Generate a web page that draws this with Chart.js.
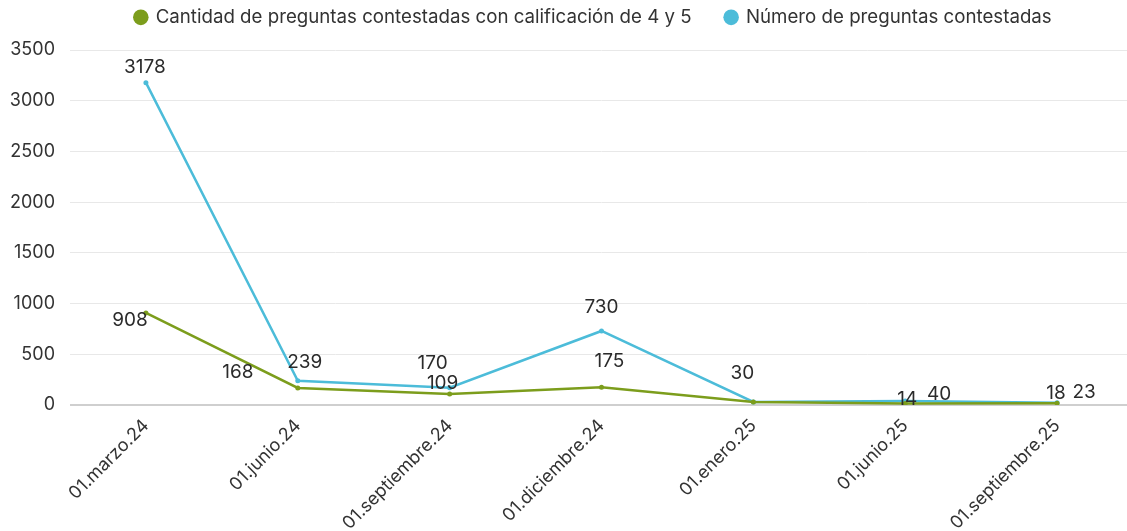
<!DOCTYPE html>
<html>
<head>
<meta charset="utf-8">
<script src="https://cdn.jsdelivr.net/npm/chart.js@4/dist/chart.umd.min.js"></script>
<style>
html,body{margin:0;padding:0;background:#fff;overflow:hidden;}
#wrap{width:1140px;height:531px;position:relative;}
</style>
</head>
<body>
<div id="wrap"><canvas id="c"></canvas></div>
<script>
const categories = ["01.marzo.24","01.junio.24","01.septiembre.24","01.diciembre.24","01.enero.25","01.junio.25","01.septiembre.25"];
const seriesNames = ["Cantidad de preguntas contestadas con calificación de 4 y 5","Número de preguntas contestadas"];
const highScoreValues = [908, 168, 109, 175, 30, 14, 18];
const answeredValues = [3178, 239, 170, 730, 30, 40, 23];
const yTicks = [0, 500, 1000, 1500, 2000, 2500, 3000, 3500];

// label placement (style only): [dx, dy] relative to point, null = hidden
const greenLabelOffsets = [[-16,7],[-60,-16],[-7,-11],[8,-26],null,[2,-4],[-1,-10]];
const blueLabelOffsets = [[-1,-15],[7,-18],[-17,-24],[0,-24],[-11,-29],[34,-7],[27,-10]];

const GREEN = '#7c9d1c';
const BLUE = '#4cbcd9';
const FONT = 'Inter, "Noto Sans", sans-serif';

const labelPlugin = {
  id: 'pointLabels',
  afterDatasetsDraw(chart) {
    const ctx = chart.ctx;
    const offs = [greenLabelOffsets, blueLabelOffsets];
    ctx.save();
    ctx.font = '19px ' + FONT;
    ctx.fillStyle = '#2b2b2b';
    ctx.textAlign = 'center';
    ctx.textBaseline = 'middle';
    chart.data.datasets.forEach((ds, i) => {
      const meta = chart.getDatasetMeta(i);
      meta.data.forEach((pt, j) => {
        const o = offs[i][j];
        if (!o) return;
        ctx.fillText(String(ds.data[j]), pt.x + o[0], pt.y + o[1]);
      });
    });
    ctx.restore();
  }
};

const legendTweak = {
  id: 'legendTweak',
  beforeInit(chart) {
    const lg = chart.legend;
    if (lg && !lg._patched) {
      const fit = lg.fit;
      lg.fit = function(){ fit.call(this); this.height = 50; };
      lg._patched = true;
    }
  },
  beforeDraw(chart) {
    const lg = chart.legend;
    if (lg && !lg._shifted) {
      lg.left += 27; lg.right += 27; lg.top -= 26; lg._shifted = true;
    }
  },
  afterUpdate(chart){ if (chart.legend) chart.legend._shifted = false; }
};

new Chart(document.getElementById('c'), {
  type: 'line',
  data: {
    labels: categories,
    datasets: [
      {label: seriesNames[0], data: highScoreValues, borderColor: GREEN, backgroundColor: GREEN,
       borderWidth: 2.5, pointRadius: 2.5, pointBackgroundColor: GREEN, pointBorderWidth: 0, tension: 0},
      {label: seriesNames[1], data: answeredValues, borderColor: BLUE, backgroundColor: BLUE,
       borderWidth: 2.5, pointRadius: 2.5, pointBackgroundColor: BLUE, pointBorderWidth: 0, tension: 0}
    ]
  },
  options: {
    responsive: true,
    maintainAspectRatio: false,
    animation: false,
    layout: {padding: {left: 0, right: 7, top: 0, bottom: 0}},
    plugins: {
      legend: {
        position: 'top',
        labels: {usePointStyle: true, pointStyle: 'circle', boxWidth: 11, boxHeight: 11,
                 padding: 34, color: '#333', font: {family: FONT, size: 18.7}}
      },
      tooltip: {enabled: false}
    },
    scales: {
      x: {
        offset: true,
        grid: {display: false, drawTicks: false},
        border: {display: false},
        ticks: {minRotation: 45, maxRotation: 45, color: '#333', font: {family: FONT, size: 18}, padding: 10},
        afterFit(s){ s.height = 126; }
      },
      y: {
        min: 0, max: 3500,
        afterBuildTicks(s){ s.ticks = yTicks.map(v => ({value: v})); },
        grid: {drawTicks: false, color: ctx => ctx.tick && ctx.tick.value === 0 ? '#cfcfcf' : '#e8e8e8',
               lineWidth: ctx => ctx.tick && ctx.tick.value === 0 ? 2 : 1},
        border: {display: false},
        ticks: {color: '#333', font: {family: FONT, size: 18}, padding: 15, callback: v => String(v)},
        afterFit(s){ s.width = 70; }
      }
    }
  },
  plugins: [labelPlugin, legendTweak]
});
</script>
</body>
</html>
